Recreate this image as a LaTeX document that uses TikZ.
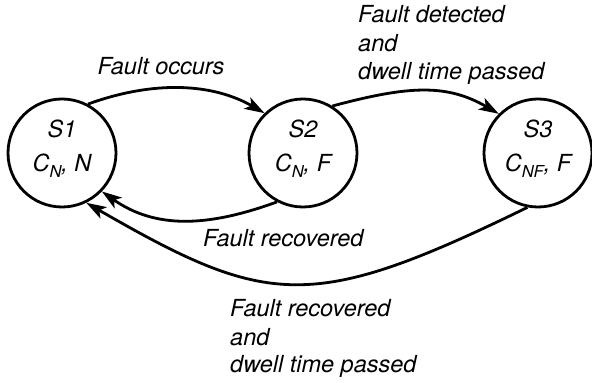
\documentclass[tikz,border=0pt]{standalone}
\usepackage{fontspec}
\setmainfont{TeX Gyre Heros}
\usetikzlibrary{arrows.meta}
\begin{document}
\begin{tikzpicture}[x=1pt,y=1pt,
  state/.style={circle,draw,line width=2.8pt,minimum size=108pt,inner sep=0pt},
  lbl/.style={font=\fontsize{23.5}{28}\selectfont\itshape,inner sep=0pt},
  conn/.style={line width=2.8pt,-{Stealth[length=20pt,width=13pt,inset=5pt]}}]
\useasboundingbox (0,0) rectangle (592,383);
\node[state] (s1) at (62,230) {};
\node[state] (s2) at (303,230) {};
\node[state] (s3) at (538,230) {};
\newcommand{\sub}[1]{\raisebox{-6pt}{\fontsize{16.5}{18}\selectfont #1}}
\node[lbl,anchor=base] (s1a) at (62,245) {S1};
\node[lbl,anchor=base] (s1b) at (62,211) {C\sub{N}, N};
\node[lbl,anchor=base] (s2a) at (303,245) {S2};
\node[lbl,anchor=base] (s2b) at (303,211) {C\sub{N}, F};
\node[lbl,anchor=base] (s3a) at (538,245) {S3};
\node[lbl,anchor=base] (s3b) at (538,211) {C\sub{NF}, F};
\node[lbl,anchor=base] (l1) at (161,308) {Fault occurs};
\node[lbl,anchor=base west] (l2a) at (358,360) {Fault detected};
\node[lbl,anchor=base west] (l2b) at (358,331) {and};
\node[lbl,anchor=base west] (l2c) at (358,303) {dwell time passed};
\node[lbl,anchor=base west] (l3) at (203,136) {Fault recovered};
\node[lbl,anchor=base west] (l4a) at (230,66) {Fault recovered};
\node[lbl,anchor=base west] (l4b) at (230,37) {and};
\node[lbl,anchor=base west] (l4c) at (230,10) {dwell time passed};
\draw[conn] (s1.62) .. controls +(20:70) and +(150:60) .. (s2.134);
\draw[conn] (s2.58) .. controls +(15:80) and +(150:60) .. (s3.135);
\draw[conn] (s2.242) .. controls +(200:75) and +(-35:65) .. (s1.-44);
\draw[conn] (s3.259) .. controls +(206:240) and +(-30:210) .. (s1.-64);
\end{tikzpicture}
\end{document}
